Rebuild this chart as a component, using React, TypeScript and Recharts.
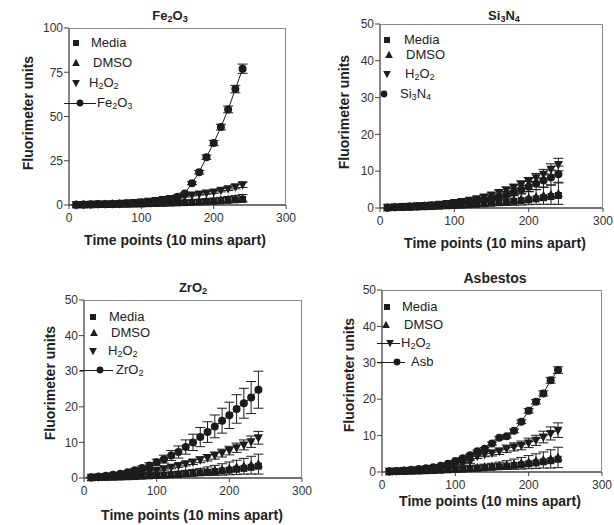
import React from 'react';
import { ScatterChart, Scatter, XAxis, YAxis, ErrorBar } from 'recharts';

const INK = '#1c1c1c';
const FONT = '"Liberation Sans", Arial, sans-serif';

// time points, 10 mins apart
const TIME = [10, 20, 30, 40, 50, 60, 70, 80, 90, 100, 110, 120, 130, 140, 150, 160, 170, 180, 190, 200, 210, 220, 230, 240];
const X_TICKS = [0, 100, 200, 300];

// Fe2O3 panel
const FE_MEDIA = [0.1, 0.15, 0.2, 0.25, 0.3, 0.35, 0.4, 0.5, 0.55, 0.65, 0.75, 0.85, 0.95, 1.1, 1.2, 1.35, 1.5, 1.7, 1.9, 2.1, 2.35, 2.6, 2.9, 3.2];
const FE_DMSO = [0.1, 0.15, 0.2, 0.3, 0.35, 0.4, 0.5, 0.55, 0.65, 0.75, 0.85, 1.0, 1.1, 1.25, 1.4, 1.6, 1.8, 2.0, 2.25, 2.5, 2.8, 3.1, 3.4, 3.8];
const FE_DMSO_ERR = [0, 0, 0, 0.1, 0.1, 0.1, 0.2, 0.2, 0.3, 0.3, 0.4, 0.5, 0.6, 0.7, 0.8, 0.9, 1.0, 1.1, 1.3, 1.4, 1.5, 1.7, 1.9, 2.1];
const FE_H2O2 = [0.2, 0.3, 0.4, 0.5, 0.6, 0.7, 0.9, 1.1, 1.4, 1.7, 2.1, 2.6, 3.1, 3.7, 4.3, 5.0, 5.6, 6.2, 6.8, 7.4, 8.3, 9.2, 10.3, 11.4];
const FE_H2O2_ERR = [0, 0, 0, 0, 0, 0.1, 0.1, 0.1, 0.2, 0.2, 0.2, 0.3, 0.3, 0.4, 0.4, 0.5, 0.5, 0.6, 0.7, 0.8, 0.9, 1.0, 1.2, 1.5];
const FE_PART = [0.2, 0.3, 0.4, 0.5, 0.6, 0.7, 0.8, 1.0, 1.2, 1.4, 1.7, 2.0, 2.6, 3.4, 4.6, 6.5, 12.3, 18.5, 27, 35, 44, 54, 65.5, 77];
const FE_PART_ERR = [0.1, 0.1, 0.1, 0.1, 0.1, 0.1, 0.1, 0.1, 0.2, 0.2, 0.2, 0.2, 0.3, 0.3, 0.4, 0.5, 0.8, 1.0, 1.2, 1.5, 1.6, 1.9, 2.1, 2.6];

// Si3N4 panel
const SI_MEDIA = [0.1, 0.15, 0.2, 0.25, 0.3, 0.35, 0.4, 0.5, 0.6, 0.7, 0.8, 0.9, 1.0, 1.15, 1.3, 1.45, 1.6, 1.8, 2.0, 2.2, 2.5, 2.8, 3.1, 3.4];
const SI_DMSO = [0.1, 0.15, 0.2, 0.3, 0.35, 0.45, 0.5, 0.6, 0.7, 0.8, 0.9, 1.05, 1.2, 1.35, 1.5, 1.7, 1.9, 2.15, 2.4, 2.7, 3.0, 3.3, 3.6, 3.9];
const SI_DMSO_ERR = [0, 0, 0.1, 0.1, 0.1, 0.2, 0.2, 0.3, 0.3, 0.4, 0.5, 0.6, 0.7, 0.8, 0.9, 1.0, 1.2, 1.4, 1.6, 1.8, 2.0, 2.3, 2.6, 2.9];
const SI_H2O2 = [0.2, 0.3, 0.4, 0.5, 0.6, 0.7, 0.8, 1.0, 1.2, 1.5, 1.8, 2.1, 2.5, 3.0, 3.5, 4.2, 4.9, 5.6, 6.4, 7.2, 8.2, 9.2, 10.5, 11.8];
const SI_H2O2_ERR = [0, 0, 0.1, 0.1, 0.1, 0.1, 0.2, 0.2, 0.2, 0.3, 0.3, 0.4, 0.4, 0.5, 0.6, 0.7, 0.8, 0.9, 1.0, 1.1, 1.2, 1.3, 1.5, 1.7];
const SI_PART = [0.1, 0.2, 0.3, 0.4, 0.5, 0.6, 0.7, 0.8, 1.0, 1.2, 1.4, 1.6, 1.9, 2.2, 2.6, 3.0, 3.6, 4.3, 5.0, 5.8, 6.6, 7.5, 8.3, 9.2];
const SI_PART_ERR = [0, 0, 0.1, 0.1, 0.1, 0.2, 0.2, 0.2, 0.3, 0.3, 0.4, 0.5, 0.5, 0.6, 0.7, 0.8, 0.9, 1.0, 1.2, 1.4, 1.6, 1.8, 2.0, 2.2];

// ZrO2 panel
const ZR_MEDIA = [0.1, 0.15, 0.2, 0.25, 0.3, 0.35, 0.4, 0.5, 0.6, 0.7, 0.8, 0.9, 1.0, 1.15, 1.3, 1.45, 1.6, 1.8, 2.0, 2.2, 2.45, 2.7, 3.0, 3.3];
const ZR_DMSO = [0.1, 0.15, 0.2, 0.3, 0.35, 0.45, 0.5, 0.6, 0.7, 0.8, 0.9, 1.05, 1.2, 1.35, 1.5, 1.7, 1.9, 2.15, 2.4, 2.7, 3.0, 3.3, 3.6, 3.9];
const ZR_DMSO_ERR = [0, 0, 0.1, 0.1, 0.1, 0.2, 0.2, 0.3, 0.3, 0.4, 0.5, 0.6, 0.7, 0.8, 0.9, 1.0, 1.2, 1.4, 1.6, 1.8, 2.0, 2.2, 2.5, 2.8];
const ZR_H2O2 = [0.2, 0.3, 0.4, 0.6, 0.8, 1.0, 1.2, 1.5, 1.8, 2.2, 2.6, 3.0, 3.5, 4.0, 4.5, 5.1, 5.7, 6.3, 7.0, 7.7, 8.5, 9.3, 10.2, 11.3];
const ZR_H2O2_ERR = [0, 0.1, 0.1, 0.1, 0.1, 0.2, 0.2, 0.2, 0.3, 0.3, 0.4, 0.4, 0.5, 0.6, 0.7, 0.8, 0.9, 1.0, 1.1, 1.2, 1.3, 1.4, 1.6, 1.8];
const ZR_PART = [0.2, 0.4, 0.6, 0.9, 1.2, 1.6, 2.2, 2.8, 3.5, 4.4, 5.3, 6.3, 7.3, 8.7, 10.0, 11.5, 12.9, 14.5, 16.1, 17.6, 19.4, 21.0, 22.6, 24.8];
const ZR_PART_ERR = [0.1, 0.1, 0.2, 0.2, 0.3, 0.4, 0.5, 0.6, 0.8, 0.9, 1.1, 1.4, 1.7, 2.0, 2.3, 2.7, 2.9, 3.2, 3.5, 3.7, 4.0, 4.2, 4.5, 5.2];

// Asbestos panel
const AS_MEDIA = [0.1, 0.15, 0.2, 0.25, 0.3, 0.35, 0.4, 0.5, 0.6, 0.7, 0.8, 0.9, 1.0, 1.15, 1.3, 1.45, 1.6, 1.8, 2.0, 2.25, 2.5, 2.8, 3.1, 3.5];
const AS_DMSO = [0.1, 0.15, 0.2, 0.3, 0.35, 0.45, 0.5, 0.6, 0.7, 0.8, 0.9, 1.05, 1.2, 1.35, 1.5, 1.7, 1.9, 2.15, 2.4, 2.7, 3.0, 3.3, 3.6, 4.0];
const AS_DMSO_ERR = [0, 0, 0.1, 0.1, 0.1, 0.2, 0.2, 0.3, 0.3, 0.4, 0.5, 0.6, 0.7, 0.8, 0.9, 1.0, 1.2, 1.4, 1.6, 1.8, 2.0, 2.2, 2.5, 2.8];
const AS_H2O2 = [0.2, 0.3, 0.4, 0.5, 0.6, 0.8, 1.0, 1.2, 1.5, 1.9, 2.3, 2.8, 4.3, 4.9, 5.2, 5.7, 6.4, 6.9, 7.3, 8.0, 8.7, 9.6, 10.6, 11.5];
const AS_H2O2_ERR = [0, 0.1, 0.1, 0.1, 0.1, 0.2, 0.2, 0.2, 0.3, 0.3, 0.4, 0.4, 0.6, 0.7, 0.8, 0.9, 1.0, 1.1, 1.2, 1.3, 1.4, 1.6, 1.8, 2.0];
const AS_PART = [0.2, 0.3, 0.4, 0.6, 0.8, 1.0, 1.3, 1.7, 2.3, 3.0, 3.8, 4.6, 5.7, 6.4, 7.8, 9.4, 9.8, 11.3, 13.8, 16.8, 19.3, 21.6, 25.2, 28.0];
const AS_PART_ERR = [0, 0, 0, 0.1, 0.1, 0.1, 0.1, 0.1, 0.2, 0.2, 0.2, 0.3, 0.3, 0.3, 0.4, 0.4, 0.4, 0.5, 0.5, 0.6, 0.6, 0.7, 0.8, 0.9];

const toPts = (ys: number[], errs?: number[]) =>
  TIME.map((x, i) => ({ x, y: ys[i], e: errs ? errs[i] : 0 }));

const Square = (p: any) => <rect x={p.cx - 3.5} y={p.cy - 3.5} width={7} height={7} fill={INK} />;
const TriUp = (p: any) => (
  <polygon points={`${p.cx},${p.cy - 5} ${p.cx - 4.5},${p.cy + 3.5} ${p.cx + 4.5},${p.cy + 3.5}`} fill={INK} />
);
const TriDown = (p: any) => (
  <polygon points={`${p.cx},${p.cy + 5} ${p.cx - 4.5},${p.cy - 3.5} ${p.cx + 4.5},${p.cy - 3.5}`} fill={INK} />
);
const Dot = (p: any) => <circle cx={p.cx} cy={p.cy} r={4} fill={INK} />;

const SHAPES: Record<string, any> = { sq: Square, up: TriUp, down: TriDown, dot: Dot };

const Sub = ({ children }: any) => (
  <sub style={{ fontSize: '0.7em', verticalAlign: '-0.25em', lineHeight: 0 }}>{children}</sub>
);

const H2O2 = <>H<Sub>2</Sub>O<Sub>2</Sub></>;

function LegendMark({ kind, x, y }: any) {
  const S = SHAPES[kind];
  return (
    <svg width={14} height={14} style={{ position: 'absolute', left: x - 7, top: y - 7, overflow: 'visible' }}>
      <g transform="translate(7 7) scale(0.85) translate(-7 -7)">
        <S cx={7} cy={7} />
      </g>
    </svg>
  );
}

function Panel({ cfg }: any) {
  const { left, top, w, h, ymax, yticks, series, title, titleX, titleY, titleSize, yLabX, yLabY, xLabX, xLabY, legend } = cfg;
  return (
    <>
      <ScatterChart
        width={50 + w + 12}
        height={10 + h + 30}
        margin={{ top: 10, right: 12, bottom: 0, left: 0 }}
        style={{ position: 'absolute', left: left - 50, top: top - 10 }}
      >
        <XAxis
          type="number" dataKey="x" domain={[0, 300]} ticks={X_TICKS} height={30}
          axisLine={{ stroke: '#444', strokeWidth: 1.3 }} tickLine={{ stroke: '#444' }} tickSize={4} tickMargin={4}
          tick={{ fontSize: 12, fill: '#333', fontFamily: FONT }}
        />
        <YAxis
          type="number" dataKey="y" domain={[0, ymax]} ticks={yticks} width={50}
          axisLine={{ stroke: '#444', strokeWidth: 1.3 }} tickLine={{ stroke: '#444' }} tickSize={5} tickMargin={1}
          tick={{ fontSize: 12, fill: '#333', fontFamily: FONT }}
        />
        {series.map((s: any, i: number) => (
          <Scatter
            key={i}
            name={s.name}
            data={s.data}
            shape={SHAPES[s.kind]}
            line={s.line ? { stroke: INK, strokeWidth: 1 } : false}
            isAnimationActive={false}
          >
            {s.err && <ErrorBar dataKey="e" direction="y" width={5} stroke={INK} strokeWidth={1} />}
          </Scatter>
        ))}
      </ScatterChart>

      {/* frame top/right */}
      <div style={{ position: 'absolute', left, top, width: w, height: h, borderTop: '1.5px solid #8a8a8a', borderRight: '1.5px solid #8a8a8a', boxSizing: 'border-box', pointerEvents: 'none' }} />

      <div style={{ position: 'absolute', left: titleX - 60, top: titleY - 9, width: 120, textAlign: 'center', fontSize: titleSize, fontWeight: 700, color: '#222', lineHeight: '18px' }}>
        {title}
      </div>
      <div style={{ position: 'absolute', left: yLabX - 70, top: yLabY - 9, width: 140, textAlign: 'center', fontSize: 14, fontWeight: 700, color: '#222', lineHeight: '18px', transform: 'rotate(-90deg)' }}>
        Fluorimeter units
      </div>
      <div style={{ position: 'absolute', left: xLabX - 110, top: xLabY - 9, width: 220, textAlign: 'center', fontSize: 14, fontWeight: 700, color: '#222', lineHeight: '18px' }}>
        Time points (10 mins apart)
      </div>

      {legend.map((r: any, i: number) => (
        <React.Fragment key={i}>
          {r.line && (
            <div style={{ position: 'absolute', left: r.line[0], top: r.y - 0.5, width: r.line[1] - r.line[0], height: 1.2, background: INK }} />
          )}
          <LegendMark kind={r.kind} x={r.sx} y={r.y} />
          <div style={{ position: 'absolute', left: r.tx, top: r.y - 9, fontSize: 13, color: '#222', lineHeight: '18px', whiteSpace: 'nowrap' }}>
            {r.label}
          </div>
        </React.Fragment>
      ))}
    </>
  );
}

const PANELS = [
  {
    left: 69, top: 28, w: 217, h: 177, ymax: 100, yticks: [0, 25, 50, 75, 100],
    title: <>Fe<Sub>2</Sub>O<Sub>3</Sub></>, titleX: 170, titleY: 16, titleSize: 13,
    yLabX: 28, yLabY: 113, xLabX: 175, xLabY: 240,
    series: [
      { name: 'Media', kind: 'sq', data: toPts(FE_MEDIA) },
      { name: 'DMSO', kind: 'up', data: toPts(FE_DMSO, FE_DMSO_ERR), err: true },
      { name: 'H2O2', kind: 'down', data: toPts(FE_H2O2, FE_H2O2_ERR), err: true },
      { name: 'Fe2O3', kind: 'dot', data: toPts(FE_PART, FE_PART_ERR), err: true, line: true },
    ],
    legend: [
      { kind: 'sq', sx: 76, y: 43, tx: 91, label: 'Media' },
      { kind: 'up', sx: 76, y: 63, tx: 93, label: 'DMSO' },
      { kind: 'down', sx: 76, y: 83, tx: 89, label: H2O2 },
      { kind: 'dot', sx: 80, y: 103, tx: 97, line: [64, 96], label: <>Fe<Sub>2</Sub>O<Sub>3</Sub></> },
    ],
  },
  {
    left: 380, top: 24, w: 223, h: 184, ymax: 50, yticks: [0, 10, 20, 30, 40, 50],
    title: <>Si<Sub>3</Sub>N<Sub>4</Sub></>, titleX: 504, titleY: 16, titleSize: 13,
    yLabX: 344, yLabY: 112, xLabX: 495, xLabY: 243,
    series: [
      { name: 'Media', kind: 'sq', data: toPts(SI_MEDIA) },
      { name: 'DMSO', kind: 'up', data: toPts(SI_DMSO, SI_DMSO_ERR), err: true },
      { name: 'H2O2', kind: 'down', data: toPts(SI_H2O2, SI_H2O2_ERR), err: true },
      { name: 'Si3N4', kind: 'dot', data: toPts(SI_PART, SI_PART_ERR), err: true },
    ],
    legend: [
      { kind: 'sq', sx: 387, y: 40, tx: 404, label: 'Media' },
      { kind: 'up', sx: 389, y: 55, tx: 406, label: 'DMSO' },
      { kind: 'down', sx: 387, y: 74, tx: 405, label: H2O2 },
      { kind: 'dot', sx: 384, y: 94, tx: 400, label: <>Si<Sub>3</Sub>N<Sub>4</Sub></> },
    ],
  },
  {
    left: 84, top: 300, w: 218, h: 178, ymax: 50, yticks: [0, 10, 20, 30, 40, 50],
    title: <>ZrO<Sub>2</Sub></>, titleX: 193, titleY: 288, titleSize: 13,
    yLabX: 50, yLabY: 383, xLabX: 192, xLabY: 515,
    series: [
      { name: 'Media', kind: 'sq', data: toPts(ZR_MEDIA) },
      { name: 'DMSO', kind: 'up', data: toPts(ZR_DMSO, ZR_DMSO_ERR), err: true },
      { name: 'H2O2', kind: 'down', data: toPts(ZR_H2O2, ZR_H2O2_ERR), err: true },
      { name: 'ZrO2', kind: 'dot', data: toPts(ZR_PART, ZR_PART_ERR), err: true, line: true },
    ],
    legend: [
      { kind: 'sq', sx: 93, y: 317, tx: 109, label: 'Media' },
      { kind: 'up', sx: 94, y: 333, tx: 111, label: 'DMSO' },
      { kind: 'down', sx: 93, y: 351, tx: 108, label: H2O2 },
      { kind: 'dot', sx: 100, y: 370, tx: 116, line: [80, 113], label: <>ZrO<Sub>2</Sub></> },
    ],
  },
  {
    left: 382, top: 290, w: 220, h: 182, ymax: 50, yticks: [0, 10, 20, 30, 40, 50],
    title: 'Asbestos', titleX: 495, titleY: 278, titleSize: 14,
    yLabX: 349, yLabY: 375, xLabX: 490, xLabY: 501,
    series: [
      { name: 'Media', kind: 'sq', data: toPts(AS_MEDIA) },
      { name: 'DMSO', kind: 'up', data: toPts(AS_DMSO, AS_DMSO_ERR), err: true },
      { name: 'H2O2', kind: 'down', data: toPts(AS_H2O2, AS_H2O2_ERR), err: true, line: true },
      { name: 'Asb', kind: 'dot', data: toPts(AS_PART, AS_PART_ERR), err: true, line: true },
    ],
    legend: [
      { kind: 'sq', sx: 387, y: 307, tx: 402, label: 'Media' },
      { kind: 'up', sx: 386, y: 325, tx: 404, label: 'DMSO' },
      { kind: 'down', sx: 390, y: 343, tx: 401, line: [377, 400], label: H2O2 },
      { kind: 'dot', sx: 397, y: 362, tx: 411, line: [377, 405], label: 'Asb' },
    ],
  },
];

export default function App() {
  return (
    <div style={{ position: 'absolute', left: 0, top: 0, width: 614, height: 525, background: '#fff', overflow: 'hidden', fontFamily: FONT }}>
      {PANELS.map((p, i) => (
        <Panel key={i} cfg={p} />
      ))}
    </div>
  );
}
